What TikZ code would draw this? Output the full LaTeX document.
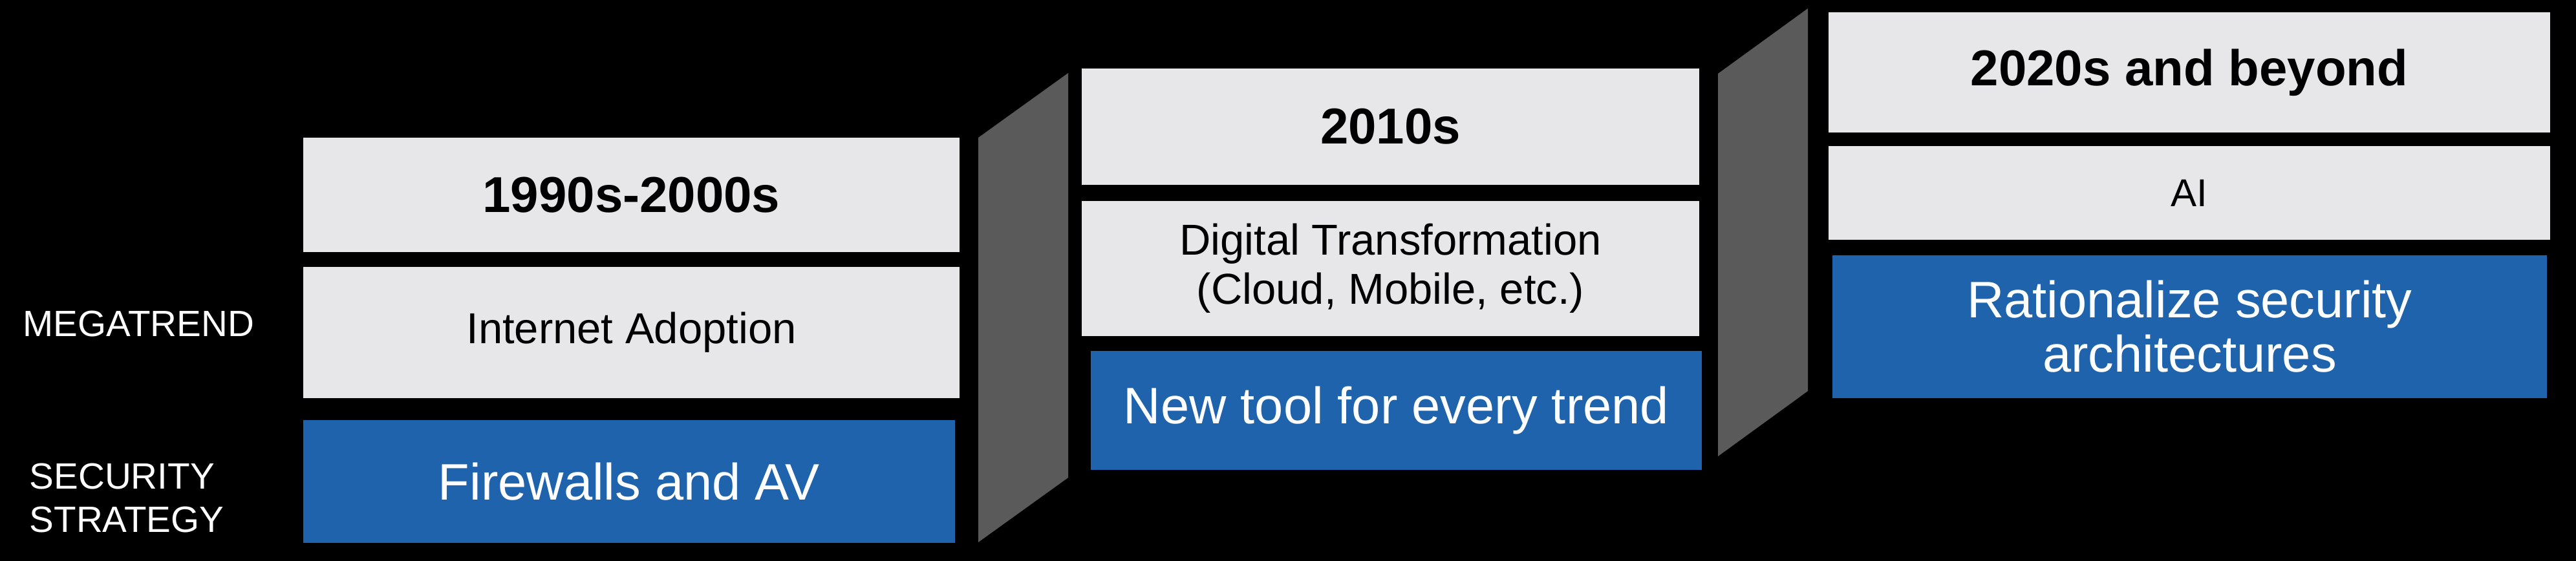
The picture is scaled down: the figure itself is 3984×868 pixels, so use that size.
\documentclass[tikz,border=0pt]{standalone}
\usepackage{fontspec}
\setmainfont{Liberation Sans}
\definecolor{boxgrey}{RGB}{231,231,233}
\definecolor{boxblue}{RGB}{32,99,173}
\definecolor{sidegrey}{RGB}{90,90,90}
\tikzset{
  box/.style={anchor=north west, inner sep=0pt, outer sep=0pt, align=center,
    minimum width=#1},
  greybox/.style={box=#1, fill=boxgrey, text=black},
  bluebox/.style={box=#1, fill=boxblue, text=white},
  headfont/.style={font=\fontsize{22.2pt}{26pt}\selectfont\bfseries},
  bodyfont/.style={font=\fontsize{19.06pt}{21.6pt}\selectfont},
  bluefont/.style={font=\fontsize{22.6pt}{23.9pt}\selectfont},
  sidelabel/.style={text=white, inner sep=0pt, align=left,
    font=\fontsize{16.1pt}{19.06pt}\selectfont},
  panel/.style={fill=sidegrey}
}
\begin{document}
\begin{tikzpicture}[x=0.1mm, y=-0.1mm]
\useasboundingbox (0,0) rectangle (3984,868);
\fill[black] (0,0) rectangle (3984,868);

% side labels
\node[sidelabel, anchor=base west] (mega) at (35,520) {MEGATREND};
\node[sidelabel, anchor=west] (secstrat) at (45,771) {SECURITY\\STRATEGY};

% column 1
\node[greybox=101.5mm, minimum height=17.7mm, headfont] (h1) at (469,213) {1990s-2000s};
\node[greybox=101.5mm, minimum height=20.3mm, bodyfont] (m1) at (469,413) {Internet Adoption};
\node[bluebox=100.8mm, minimum height=19.0mm, bluefont] (s1) at (469,650) {Firewalls and AV};

% connector panel 1
\fill[panel] (1513,213) -- (1652,113) -- (1652,739) -- (1513,839) -- cycle;

% column 2
\node[greybox=95.5mm, minimum height=18.0mm, headfont] (h2) at (1673,106) {2010s};
\node[greybox=95.5mm, minimum height=20.9mm, bodyfont] (m2) at (1673,311) {Digital Transformation\\(Cloud, Mobile, etc.)};
\node[bluebox=94.5mm, minimum height=18.4mm, bluefont] (s2) at (1687,543) {New tool for every trend};

% connector panel 2
\fill[panel] (2657,114) -- (2796,13) -- (2796,605) -- (2657,706) -- cycle;

% column 3
\node[greybox=111.6mm, minimum height=18.6mm, headfont] (h3) at (2828,19) {2020s and beyond};
\node[greybox=111.6mm, minimum height=14.5mm, font=\fontsize{17.1pt}{20pt}\selectfont] (m3) at (2828,226) {AI};
\node[bluebox=110.5mm, minimum height=22.1mm, bluefont] (s3) at (2834,395) {Rationalize security\\architectures};
\end{tikzpicture}
\end{document}
